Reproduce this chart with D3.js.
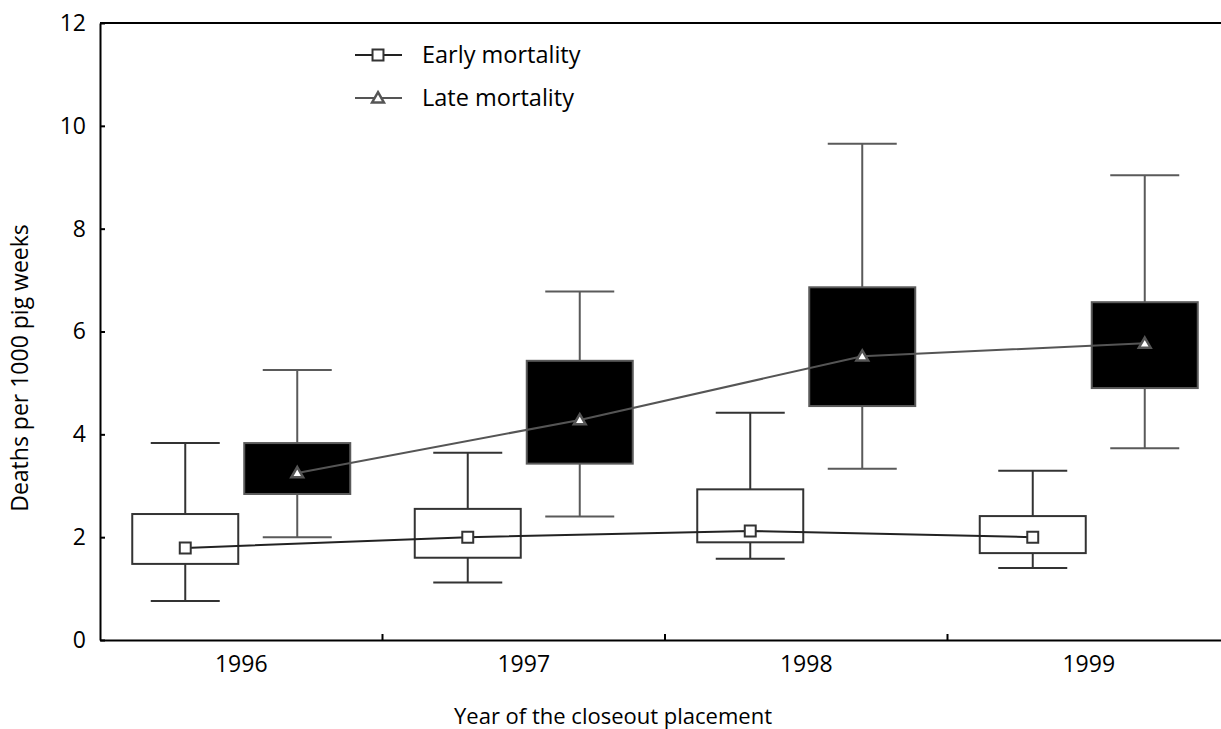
<!DOCTYPE html>
<html><head><meta charset="utf-8">
<script src="https://cdn.jsdelivr.net/npm/d3@7"></script>
<style>body{margin:0;background:#fff}svg{display:block}text{font-family:"Open Sans",sans-serif;fill:#000}</style>
</head><body><svg id="c" width="1221" height="729"></svg>
<script>
const years = ["1996","1997","1998","1999"];
const yTicks = [0,2,4,6,8,10,12];
// Early mortality: whisker low, box low, mean, box high, whisker high
const earlyLow   = [0.76, 1.12, 1.58, 1.40];
const earlyQ1    = [1.48, 1.60, 1.90, 1.69];
const earlyMean  = [1.79, 2.00, 2.12, 2.00];
const earlyQ3    = [2.45, 2.55, 2.93, 2.41];
const earlyHigh  = [3.83, 3.64, 4.42, 3.29];
// Late mortality
const lateLow    = [2.00, 2.40, 3.33, 3.73];
const lateQ1     = [2.84, 3.43, 4.55, 4.90];
const lateMean   = [3.25, 4.28, 5.52, 5.77];
const lateQ3     = [3.83, 5.43, 6.86, 6.57];
const lateHigh   = [5.25, 6.78, 9.65, 9.04];

const svg = d3.select("#c");
const L=100, R=1230, T=23, B=640;
const x = d3.scaleBand().domain(years).range([L,R]);
const y = d3.scaleLinear().domain([0,12]).range([B,T]);
const off = 56, bw = 106, cw = 69;
const FS = 23;

// frame
svg.append("line").attr("x1",L).attr("x2",R).attr("y1",T).attr("y2",T).attr("stroke","#000").attr("stroke-width",2);
const yAx = svg.append("g").attr("transform",`translate(${L},0)`)
  .call(d3.axisLeft(y).tickValues(yTicks).tickSizeInner(-5).tickSizeOuter(0).tickPadding(14));
yAx.attr("font-size",null).attr("font-family",null);
yAx.select(".domain").attr("stroke","#000").attr("stroke-width",2);
yAx.selectAll(".tick line").attr("stroke","#000").attr("stroke-width",2);
yAx.selectAll(".tick text").style("font-size",FS+"px").attr("fill","#000");

const xAx = svg.append("g").attr("transform",`translate(0,${B})`)
  .call(d3.axisBottom(x).tickSize(0).tickPadding(16));
xAx.attr("font-size",null).attr("font-family",null);
xAx.select(".domain").attr("stroke","#000").attr("stroke-width",2);
xAx.selectAll(".tick text").style("font-size",FS+"px").attr("fill","#000");
// boundary ticks
svg.append("g").selectAll("line").data(years.slice(1)).join("line")
  .attr("x1",d=>x(d)).attr("x2",d=>x(d)).attr("y1",B).attr("y2",B-6)
  .attr("stroke","#000").attr("stroke-width",2);

function drawSeries(lo,q1,mean,q3,hi,dx,fill,stroke){
  const g = svg.append("g");
  years.forEach((yr,i)=>{
    const cx = x(yr)+x.bandwidth()/2+dx;
    g.append("line").attr("x1",cx).attr("x2",cx).attr("y1",y(hi[i])).attr("y2",y(q3[i])).attr("stroke",stroke).attr("stroke-width",2);
    g.append("line").attr("x1",cx).attr("x2",cx).attr("y1",y(q1[i])).attr("y2",y(lo[i])).attr("stroke",stroke).attr("stroke-width",2);
    g.append("line").attr("x1",cx-cw/2).attr("x2",cx+cw/2).attr("y1",y(hi[i])).attr("y2",y(hi[i])).attr("stroke",stroke).attr("stroke-width",2);
    g.append("line").attr("x1",cx-cw/2).attr("x2",cx+cw/2).attr("y1",y(lo[i])).attr("y2",y(lo[i])).attr("stroke",stroke).attr("stroke-width",2);
    g.append("rect").attr("x",cx-bw/2).attr("width",bw).attr("y",y(q3[i])).attr("height",y(q1[i])-y(q3[i]))
      .attr("fill",fill).attr("stroke",stroke).attr("stroke-width",2);
  });
  return g;
}
drawSeries(earlyLow,earlyQ1,earlyMean,earlyQ3,earlyHigh,-off,"#fff","#333");
drawSeries(lateLow,lateQ1,lateMean,lateQ3,lateHigh,off,"#000","#5a5a5a");

const line = d3.line().x((d,i)=>x(years[i])+x.bandwidth()/2+d[0]).y(d=>y(d[1]));
svg.append("path").attr("d",line(earlyMean.map(v=>[-off,v]))).attr("fill","none").attr("stroke","#222").attr("stroke-width",2);
svg.append("path").attr("d",line(lateMean.map(v=>[off,v]))).attr("fill","none").attr("stroke","#555").attr("stroke-width",2);

const sq = d3.symbol().type(d3.symbolSquare).size(120);
const tri = d3.symbol().type(d3.symbolTriangle).size(60);
svg.append("g").selectAll("path").data(earlyMean).join("path")
  .attr("transform",(d,i)=>`translate(${x(years[i])+x.bandwidth()/2-off},${y(d)})`)
  .attr("d",sq()).attr("fill","#fff").attr("stroke","#333").attr("stroke-width",2);
svg.append("g").selectAll("path").data(lateMean).join("path")
  .attr("transform",(d,i)=>`translate(${x(years[i])+x.bandwidth()/2+off},${y(d)+1})`)
  .attr("d",tri()).attr("fill","#fff").attr("stroke","#555").attr("stroke-width",2.5);

// legend
const lg = svg.append("g");
lg.append("line").attr("x1",355).attr("x2",402).attr("y1",55).attr("y2",55).attr("stroke","#222").attr("stroke-width",2);
lg.append("path").attr("transform","translate(378,55)").attr("d",sq()).attr("fill","#fff").attr("stroke","#333").attr("stroke-width",2);
lg.append("text").attr("x",422).attr("y",63).style("font-size","23.5px").text("Early mortality");
lg.append("line").attr("x1",355).attr("x2",402).attr("y1",98).attr("y2",98).attr("stroke","#555").attr("stroke-width",2);
lg.append("path").attr("transform","translate(378,99)").attr("d",tri()).attr("fill","#fff").attr("stroke","#555").attr("stroke-width",2.5);
lg.append("text").attr("x",422).attr("y",106).style("font-size","23.5px").text("Late mortality");

svg.append("text").attr("transform","translate(28,368) rotate(-90)").attr("text-anchor","middle").style("font-size","23px").text("Deaths per 1000 pig weeks");
svg.append("text").attr("x",613).attr("y",724).attr("text-anchor","middle").style("font-size","22px").text("Year of the closeout placement");
</script></body></html>
